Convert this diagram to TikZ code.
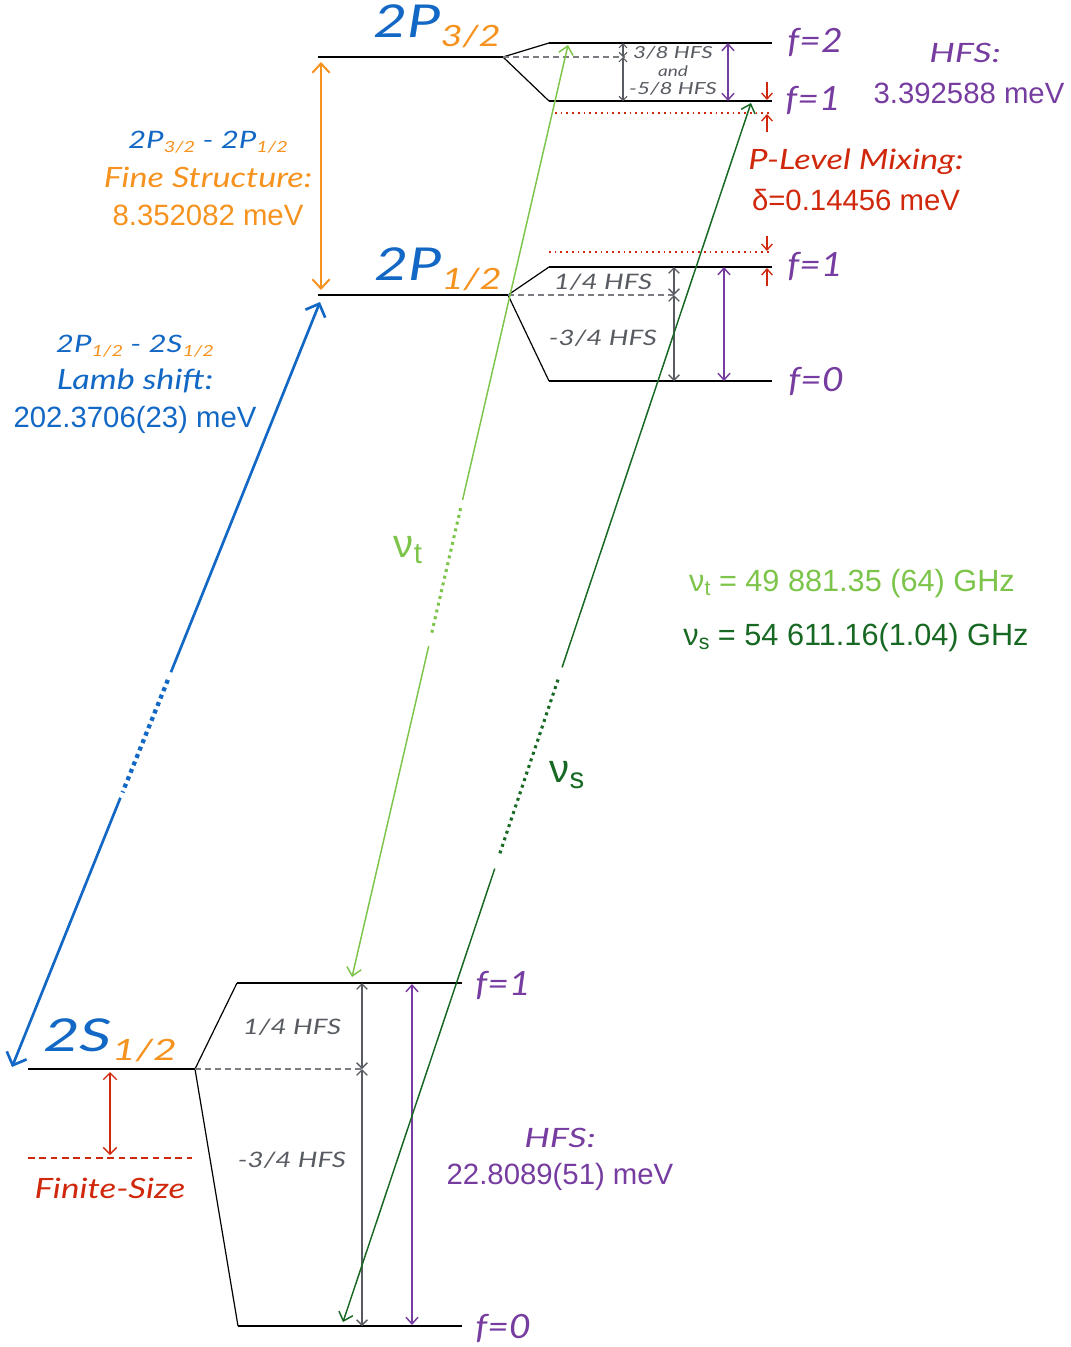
\documentclass[tikz,border=0pt]{standalone}
\usepackage{fontspec}
\usepackage{graphicx}
\setmainfont{Liberation Sans}
\newfontfamily\handfont{Lato}
\newcommand{\hw}{\handfont\itshape}
\newcommand{\wide}[2]{\scalebox{#1}[1]{#2}}
\usetikzlibrary{arrows.meta,calc}
\definecolor{cblue}{RGB}{18,104,196}
\definecolor{corange}{RGB}{246,146,30}
\definecolor{cpurple}{RGB}{118,60,160}
\definecolor{cred}{RGB}{208,40,12}
\definecolor{clgreen}{RGB}{124,196,74}
\definecolor{cdgreen}{RGB}{22,104,34}
\definecolor{cgray}{RGB}{88,92,98}
\newcommand{\fs}[1]{\fontsize{#1}{#1}\selectfont}
\newcommand{\bigterm}[2]{{\hw\color{cblue}\fs{34}#1}{\hw\color{corange}\fs{22}\raisebox{-7pt}{#2}}}
\newcommand{\smallterm}[2]{{\hw\color{cblue}\fs{18}#1}{\hw\color{corange}\fs{11.5}\raisebox{-3.5pt}{#2}}}
\begin{document}
\begin{tikzpicture}[x=0.75pt,y=-0.75pt,
  level/.style={line width=1.5pt,black},
  branch/.style={line width=0.9pt,black},
  middash/.style={cgray!80,line width=0.8pt,dash pattern=on 4.5pt off 3pt},
  garr/.style={cgray,line width=1pt,<->,>={Straight Barb[length=4pt,width=8pt]}},
  garrs/.style={cgray,line width=0.8pt,<->,>={Straight Barb[length=3pt,width=6pt]}},
  parr/.style={cpurple,line width=1.1pt,<->,>={Straight Barb[length=5pt,width=9pt]}},
  rarr/.style={cred,line width=1pt,->,>={Straight Barb[length=4.5pt,width=8pt]}},
  rdot/.style={cred,line width=1.3pt,dash pattern=on 1.3pt off 3pt},
  rdash/.style={cred,line width=1.8pt,dash pattern=on 5pt off 3.5pt},
  oarr/.style={corange,line width=1.5pt,<->,>={Straight Barb[length=7pt,width=13pt]}},
  barr/.style={cblue,line width=2pt,->,>={Straight Barb[length=8pt,width=16pt]}},
  bdot/.style={cblue,line width=3.2pt,dash pattern=on 3pt off 3pt},
  lgarr/.style={clgreen,line width=1.1pt,->,>={Straight Barb[length=6pt,width=11pt]}},
  lgdot/.style={clgreen,line width=2.3pt,dash pattern=on 2.2pt off 3pt},
  dgarr/.style={cdgreen,line width=1.1pt,->,>={Straight Barb[length=6pt,width=11pt]}},
  dgdot/.style={cdgreen,line width=2.3pt,dash pattern=on 2.2pt off 3pt},
  flab/.style={inner sep=0pt,text=cpurple,font=\hw\fs{25}},
  hfsg/.style={inner sep=0pt,text=cgray,font=\hw\fs{16}},
  num/.style={inner sep=0pt,font=\fs{22}},
  txt/.style={inner sep=0pt}]
\useasboundingbox (0,0) rectangle (1071,1347);

% ---------------- 2P3/2 ----------------
\coordinate (P3L) at (318,57); \coordinate (P3R) at (503,57);
\coordinate (P3f2a) at (549,43); \coordinate (P3f2b) at (772,43);
\coordinate (P3f1a) at (549,101); \coordinate (P3f1b) at (772,101);
\coordinate (P3m) at (625,57);
\draw[level] (P3L) -- (P3R);
\draw[branch] (P3R) -- (P3f2a); \draw[branch] (P3R) -- (P3f1a);
\draw[level] (P3f2a) -- (P3f2b);
\draw[level] (P3f1a) -- (P3f1b);
\draw[middash] (P3R) -- (P3m);
\coordinate (g3a) at (623,43); \coordinate (g3m) at (623,57); \coordinate (g3b) at (623,101);
\draw[garrs] (g3a) -- (g3m);
\draw[garrs] (g3m) -- (g3b);
\coordinate (p3a) at (728,43); \coordinate (p3b) at (728,101);
\draw[parr] (p3a) -- (p3b);
\coordinate (r3d) at (555,113); \coordinate (r3e) at (772,113);
\draw[rdot] (r3d) -- (r3e);
\coordinate (r3s1) at (767,82); \coordinate (r3t1) at (767,100);
\coordinate (r3s2) at (767,132); \coordinate (r3t2) at (767,114);
\draw[rarr] (r3s1) -- (r3t1);
\draw[rarr] (r3s2) -- (r3t2);
\node[txt,text=cgray,font=\hw\fs{12.5},align=center] (t38) at (673,71) {\wide{1.35}{3/8 HFS}\\[1pt]{\fs{11}\wide{1.3}{and}}\\[1pt]\wide{1.35}{-5/8 HFS}};
\node[flab] (lf2) at (815,42) {\wide{1.12}{f=2}};
\node[flab] (lf1u) at (813,100) {\wide{1.12}{f=1}};
\node[txt] (l3) at (437,26) {\wide{1.3}{\bigterm{2P}{3/2}}};

% ---------------- 2P1/2 ----------------
\coordinate (P1L) at (318,295); \coordinate (P1R) at (508,295);
\coordinate (P1f1a) at (549,267); \coordinate (P1f1b) at (772,267);
\coordinate (P1f0a) at (549,381); \coordinate (P1f0b) at (772,381);
\coordinate (P1m) at (676,295);
\draw[level] (P1L) -- (P1R);
\draw[branch] (P1R) -- (P1f1a); \draw[branch] (P1R) -- (P1f0a);
\draw[level] (P1f1a) -- (P1f1b);
\draw[level] (P1f0a) -- (P1f0b);
\draw[middash] (P1R) -- (P1m);
\coordinate (g1a) at (674,267); \coordinate (g1m) at (674,295); \coordinate (g1b) at (674,381);
\draw[garr] (g1a) -- (g1m);
\draw[garr] (g1m) -- (g1b);
\coordinate (p1a) at (724,267); \coordinate (p1b) at (724,381);
\draw[parr] (p1a) -- (p1b);
\coordinate (r1d) at (549,252); \coordinate (r1e) at (772,252);
\draw[rdot] (r1d) -- (r1e);
\coordinate (r1s1) at (767,236); \coordinate (r1t1) at (767,251);
\coordinate (r1s2) at (767,286); \coordinate (r1t2) at (767,268);
\draw[rarr] (r1s1) -- (r1t1);
\draw[rarr] (r1s2) -- (r1t2);
\node[hfsg] (t14a) at (603,282) {\wide{1.3}{1/4 HFS}};
\node[hfsg] (t34a) at (603,338) {\wide{1.3}{-3/4 HFS}};
\node[flab] (lf1m) at (815,266) {\wide{1.12}{f=1}};
\node[flab] (lf0m) at (816,381) {\wide{1.12}{f=0}};
\node[txt] (l1) at (438,269) {\wide{1.3}{\bigterm{2P}{1/2}}};

% fine structure arrow
\coordinate (oA) at (321,62); \coordinate (oB) at (321,290);
\draw[oarr] (oA) -- (oB);
\node[txt] (fsa) at (208,142) {\wide{1.3}{\smallterm{2P}{3/2}{\hw\color{cblue}\fs{18} - }\smallterm{2P}{1/2}}};
\node[txt,text=corange,font=\hw\fs{21}] (fsb) at (208,177) {\wide{1.22}{Fine Structure:}};
\node[num,text=corange] (fsc) at (208,215) {8.352082 meV};

% HFS 2P
\node[txt,text=cpurple,font=\hw\fs{20}] (h1) at (965,53) {\wide{1.35}{HFS:}};
\node[num,text=cpurple] (h2) at (969,93) {3.392588 meV};
% P-level mixing
\node[txt,text=cred,font=\hw\fs{21}] (m1) at (856,162) {\wide{1.23}{P-Level Mixing:}};
\node[num,text=cred] (m2) at (856,200) {δ=0.14456 meV};

% ---------------- 2S1/2 ----------------
\coordinate (SL) at (28,1069); \coordinate (SR) at (195,1069);
\coordinate (Sf1a) at (237,983); \coordinate (Sf1b) at (462,983);
\coordinate (Sf0a) at (238,1326); \coordinate (Sf0b) at (462,1326);
\coordinate (Sm) at (364,1069);
\draw[level] (SL) -- (SR);
\draw[branch] (SR) -- (Sf1a); \draw[branch] (SR) -- (Sf0a);
\draw[level] (Sf1a) -- (Sf1b);
\draw[level] (Sf0a) -- (Sf0b);
\draw[middash] (SR) -- (Sm);
\coordinate (gsa) at (362,983); \coordinate (gsm) at (362,1069); \coordinate (gsb) at (362,1326);
\draw[garr] (gsa) -- (gsm);
\draw[garr] (gsm) -- (gsb);
\coordinate (psa) at (412,984); \coordinate (psb) at (412,1325);
\draw[parr] (psa) -- (psb);
\node[hfsg] (t14s) at (292,1027) {\wide{1.3}{1/4 HFS}};
\node[hfsg] (t34s) at (292,1160) {\wide{1.3}{-3/4 HFS}};
\node[flab] (lf1s) at (503,985) {\wide{1.12}{f=1}};
\node[flab] (lf0s) at (503,1328) {\wide{1.12}{f=0}};
\node[txt] (ls) at (110,1040) {\wide{1.4}{\bigterm{2S}{1/2}}};
% finite size
\coordinate (fsz1) at (28,1158); \coordinate (fsz2) at (192,1158);
\draw[rdash] (fsz1) -- (fsz2);
\coordinate (frA) at (110,1072); \coordinate (frB) at (110,1155);
\draw[cred,line width=1pt,<->,>={Straight Barb[length=5pt,width=10pt]}] (frA) -- (frB);
\node[txt,text=cred,font=\hw\fs{21}] (fin) at (110,1188) {\wide{1.25}{Finite-Size}};
% HFS 2S
\node[txt,text=cpurple,font=\hw\fs{20}] (hs1) at (560,1138) {\wide{1.35}{HFS:}};
\node[num,text=cpurple] (hs2) at (560,1177) {22.8089(51) meV};

% ---------------- Lamb shift arrow ----------------
\coordinate (Btop) at (320,302); \coordinate (Bbot) at (12,1067);
\draw[barr] ($(Btop)!0.484!(Bbot)$) -- (Btop);
\draw[bdot] ($(Btop)!0.494!(Bbot)$) -- ($(Btop)!0.641!(Bbot)$);
\draw[barr] ($(Btop)!0.648!(Bbot)$) -- (Bbot);
\node[txt] (la) at (135,346) {\wide{1.3}{\smallterm{2P}{1/2}{\hw\color{cblue}\fs{18} - }\smallterm{2S}{1/2}}};
\node[txt,text=cblue,font=\hw\fs{21}] (lb) at (135,381) {\wide{1.22}{Lamb shift:}};
\node[num,text=cblue] (lc) at (135,420) {202.3706(23) meV};

% ---------------- nu_t arrow ----------------
\coordinate (Ttop) at (568,45); \coordinate (Tbot) at (352,977);
\draw[lgarr] ($(Ttop)!0.488!(Tbot)$) -- (Ttop);
\draw[lgdot] ($(Ttop)!0.497!(Tbot)$) -- ($(Ttop)!0.633!(Tbot)$);
\draw[lgarr] ($(Ttop)!0.645!(Tbot)$) -- (Tbot);
\node[txt,text=clgreen] (nt) at (408,550) {\fs{30}ν\raisebox{-5pt}{\fs{22}t}};

% ---------------- nu_s arrow ----------------
\coordinate (Stop) at (751,103); \coordinate (Sbot) at (343,1322);
\draw[dgarr] ($(Stop)!0.463!(Sbot)$) -- (Stop);
\draw[dgdot] ($(Stop)!0.473!(Sbot)$) -- ($(Stop)!0.618!(Sbot)$);
\draw[dgarr] ($(Stop)!0.628!(Sbot)$) -- (Sbot);
\node[txt,text=cdgreen] (ns) at (567,775) {\fs{30}ν\raisebox{-5pt}{\fs{22}s}};

% frequency values
\node[txt,text=clgreen,font=\fs{23}] (vt) at (852,584) {ν\raisebox{-3pt}{\fs{16}t} = 49 881.35 (64) GHz};
\node[txt,text=cdgreen,font=\fs{23}] (vs) at (856,638) {ν\raisebox{-3pt}{\fs{16}s} = 54 611.16(1.04) GHz};
\end{tikzpicture}
\end{document}
